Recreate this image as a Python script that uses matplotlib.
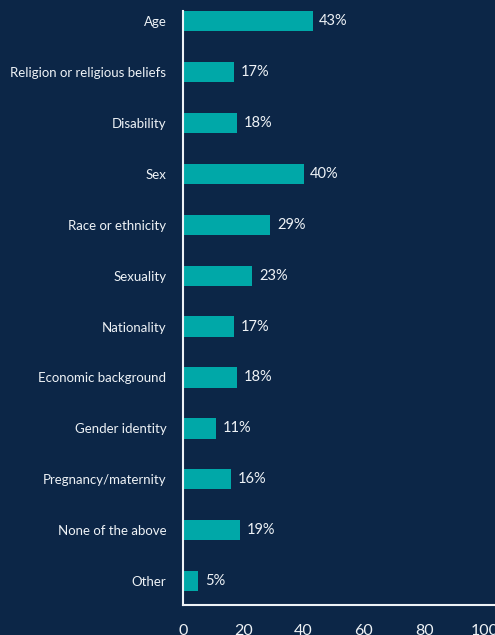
import numpy as np
import matplotlib.pyplot as plt

# Data
categories = ["Age", "Religion or religious beliefs", "Disability", "Sex",
              "Race or ethnicity", "Sexuality", "Nationality",
              "Economic background", "Gender identity", "Pregnancy/maternity",
              "None of the above", "Other"]
values = [43, 17, 18, 40, 29, 23, 17, 18, 11, 16, 19, 5]
xticks = [0, 20, 40, 60, 80, 100]

bg = "#0c2647"
bar_col = "#00a8a8"
txt = "#eef2f6"

plt.rcParams["font.family"] = ["Lato", "DejaVu Sans"]

fig = plt.figure(figsize=(4.95, 6.35), dpi=100, facecolor=bg)
ax = fig.add_axes([0.3697, 0.0472, 0.6303, 0.9355], facecolor=bg)

y = np.arange(len(categories))
ax.barh(y, values, height=0.4, color=bar_col)
for yi, v in zip(y, values):
    ax.text(v + 2.2, yi, f"{v}%", color=txt, fontsize=10.5, va="center", ha="left")

ax.set_ylim(len(categories) - 0.53, -0.2)
ax.set_xlim(0, 103.5)
ax.set_yticks(y)
ax.set_yticklabels(categories, color=txt, fontsize=9.5)
ax.set_xticks(xticks)
ax.set_xticklabels([str(t) for t in xticks], color=txt, fontsize=11.5)
ax.tick_params(axis="both", length=0)
ax.tick_params(axis="y", pad=12)
ax.tick_params(axis="x", pad=14)

for s in ["top", "right"]:
    ax.spines[s].set_visible(False)
for s in ["left", "bottom"]:
    ax.spines[s].set_color(txt)
    ax.spines[s].set_linewidth(1.5)

fig.savefig("out.png", dpi=100, facecolor=bg)
